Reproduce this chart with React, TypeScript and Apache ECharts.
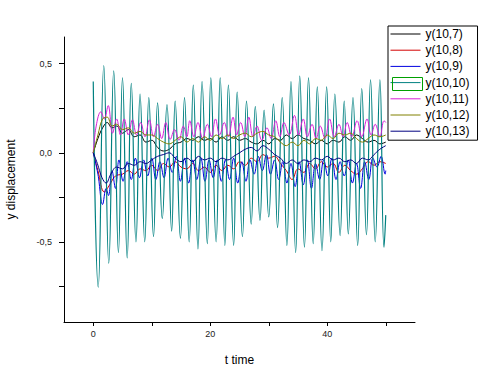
import React, { useEffect, useRef } from 'react';
import * as echarts from 'echarts';

const seriesNames = ['y(10,7)', 'y(10,8)', 'y(10,9)', 'y(10,10)', 'y(10,11)', 'y(10,12)', 'y(10,13)'];
const seriesColors = ['#000000', '#d40000', '#0000e0', '#008080', '#d820d8', '#808000', '#000080'];

const y10_7: number[][] = [[0,0],[0.8,0.08],[1.6,0.14],[2.4,0.17],[3.2,0.14],[4,0.15],[5,0.11],[6,0.13],[7,0.09],[8,0.1],[9,0.06],[10,0.07],[11,0.03],[12,0.01],[13,0.02],[14,0.05],[15,0.06],[16,0.08],[17,0.07],[18,0.09],[19,0.07],[20,0.08],[21,0.06],[22,0.09],[23,0.07],[24,0.09],[25,0.07],[26,0.08],[27,0.06],[28,0.05],[29,0.07],[30,0.05],[31,0.08],[32,0.07],[33,0.1],[34,0.08],[35,0.1],[36,0.08],[37,0.07],[38,0.05],[39,0.07],[40,0.05],[41,0.07],[42,0.06],[43,0.09],[44,0.07],[45,0.1],[46,0.08],[47,0.06],[48,0.07],[49,0.05],[50,0.06]];

const y10_8: number[][] = [[0,0],[0.8,-0.1],[1.9,-0.22],[2.8,-0.18],[3.8,-0.13],[5,-0.12],[6,-0.1],[7,-0.12],[8,-0.09],[9,-0.1],[10,-0.07],[11,-0.1],[12,-0.06],[13,-0.08],[14,-0.05],[15,-0.08],[16,-0.09],[17,-0.06],[18,-0.1],[19,-0.08],[20,-0.11],[21,-0.07],[22,-0.1],[23,-0.07],[24,-0.09],[25,-0.05],[26,-0.07],[27,-0.03],[28,-0.05],[29,-0.01],[30,-0.03],[31,-0.02],[32,-0.06],[33,-0.1],[34,-0.15],[35,-0.09],[36,-0.11],[37,-0.06],[38,-0.09],[39,-0.05],[40,-0.08],[41,-0.06],[42,-0.11],[43,-0.07],[44,-0.1],[45,-0.12],[46,-0.09],[47,-0.05],[48,-0.07],[49,-0.05],[50,-0.06]];

const y10_9: number[][] = [[0,0],[0.8,-0.12],[1.6,-0.29],[2.2,-0.2],[2.6,-0.24],[3.2,-0.1],[3.8,-0.2],[4.4,-0.04],[5.1,-0.16],[5.8,-0.05],[6.5,-0.15],[7.2,-0.03],[7.9,-0.14],[8.6,-0.04],[9.3,-0.13],[10.0,-0.03],[10.7,-0.15],[11.4,-0.05],[12.1,-0.14],[12.8,-0.03],[13.5,-0.11],[14.2,-0.02],[14.9,-0.16],[15.6,-0.03],[16.3,-0.17],[17.0,-0.04],[17.7,-0.15],[18.4,-0.03],[19.1,-0.16],[19.8,-0.04],[20.5,-0.14],[21.2,-0.04],[21.9,-0.16],[22.6,-0.04],[23.3,-0.15],[24.0,-0.03],[24.7,-0.17],[25.4,-0.05],[26.1,-0.16],[26.8,-0.04],[27.5,-0.12],[28.2,-0.02],[28.9,-0.1],[29.6,-0.01],[30.3,-0.12],[31.0,-0.04],[31.7,-0.15],[32.4,-0.05],[33.1,-0.17],[33.8,-0.06],[34.5,-0.19],[35.2,-0.05],[35.9,-0.18],[36.6,-0.04],[37.3,-0.2],[38.0,-0.06],[38.7,-0.15],[39.4,-0.04],[40.1,-0.13],[40.8,-0.03],[41.5,-0.15],[42.2,-0.05],[42.9,-0.13],[43.6,-0.04],[44.3,-0.17],[45.0,-0.06],[45.7,-0.2],[46.4,-0.05],[47.1,-0.15],[47.8,-0.03],[48.5,-0.08],[49.2,-0.02],[49.9,-0.12],[50,-0.1]];

const y10_10: number[][] = [[0,0.4],[0.85,-0.755],[1.8,0.49],[2.65,-0.62],[3.5,0.46],[4.3,-0.56],[5.0,0.42],[5.8,-0.59],[6.5,0.39],[7.3,-0.5],[8.0,0.33],[8.8,-0.5],[9.5,0.31],[10.3,-0.47],[11.0,0.28],[11.8,-0.37],[12.6,0.27],[13.4,-0.44],[14.0,0.29],[14.9,-0.48],[15.6,0.31],[16.4,-0.5],[17.1,0.38],[17.9,-0.54],[18.6,0.4],[19.5,-0.51],[20.1,0.42],[21.0,-0.5],[21.7,0.42],[22.5,-0.52],[23.1,0.38],[24.0,-0.52],[24.6,0.34],[25.5,-0.47],[26.2,0.29],[27.0,-0.4],[27.7,0.26],[28.5,-0.38],[29.2,0.24],[30.0,-0.36],[30.8,0.275],[31.5,-0.42],[32.3,0.31],[33.1,-0.52],[33.8,0.4],[34.6,-0.56],[35.3,0.43],[36.1,-0.53],[36.8,0.42],[37.6,-0.51],[38.3,0.37],[39.1,-0.55],[39.9,0.37],[40.6,-0.5],[41.3,0.33],[42.2,-0.465],[42.9,0.29],[43.6,-0.455],[44.4,0.31],[45.2,-0.52],[45.9,0.36],[46.7,-0.46],[47.4,0.41],[48.2,-0.5],[49.0,0.41],[49.7,-0.53],[50,-0.35]];

const y10_11: number[][] = [[0,0],[0.5,0.15],[1.3,0.23],[1.9,0.19],[2.55,0.265],[3.3,0.11],[4.0,0.19],[4.65,0.1],[5.3,0.19],[6.0,0.1],[6.7,0.185],[7.4,0.1],[8.1,0.17],[8.85,0.09],[9.6,0.185],[10.3,0.09],[11.0,0.16],[11.7,0.08],[12.4,0.17],[13.15,0.075],[13.9,0.13],[14.65,0.07],[15.4,0.15],[16.0,0.09],[16.5,0.18],[17.2,0.09],[17.9,0.17],[18.7,0.08],[19.5,0.16],[20.2,0.09],[20.9,0.19],[21.6,0.1],[22.4,0.17],[23.1,0.09],[23.9,0.2],[24.5,0.1],[25.2,0.17],[25.9,0.09],[26.6,0.2],[27.3,0.09],[28.0,0.15],[28.8,0.07],[29.7,0.14],[30.4,0.08],[31.2,0.18],[31.9,0.09],[32.6,0.17],[33.5,0.1],[34.4,0.21],[35.1,0.1],[35.9,0.19],[36.6,0.09],[37.4,0.16],[38.1,0.08],[38.8,0.15],[39.6,0.08],[40.4,0.19],[41.2,0.09],[42.0,0.16],[42.7,0.09],[43.4,0.17],[44.2,0.09],[45.1,0.18],[45.9,0.09],[46.8,0.19],[47.5,0.1],[48.2,0.16],[49.0,0.09],[49.7,0.18],[50,0.17]];

const y10_12: number[][] = [[0,0],[0.8,0.1],[1.6,0.19],[2.4,0.2],[3.2,0.15],[4,0.16],[5,0.13],[6,0.14],[7,0.11],[8,0.12],[9,0.1],[10,0.1],[11,0.08],[12,0.06],[13,0.05],[14,0.07],[15,0.09],[16,0.06],[17,0.08],[18,0.06],[19,0.09],[20,0.07],[21,0.1],[22,0.08],[23,0.1],[24,0.08],[25,0.1],[26,0.11],[27,0.09],[28,0.11],[29,0.12],[30,0.1],[31,0.09],[32,0.06],[33,0.04],[34,0.06],[35,0.04],[36,0.07],[37,0.05],[38,0.08],[39,0.07],[40,0.1],[41,0.08],[42,0.11],[43,0.1],[44,0.11],[45,0.08],[46,0.06],[47,0.08],[48,0.1],[49,0.09],[50,0.1]];

const y10_13: number[][] = [[0,0],[0.7,-0.06],[1.5,-0.14],[2.2,-0.17],[3,-0.12],[4,-0.08],[5,-0.09],[6,-0.06],[7,-0.07],[8,-0.05],[9,-0.06],[10,-0.04],[11,-0.02],[12,-0.01],[13,0.0],[14,-0.03],[15,-0.05],[16,-0.03],[17,-0.05],[18,-0.02],[19,-0.04],[20,-0.03],[21,-0.05],[22,-0.03],[23,-0.04],[24,-0.02],[25,0.0],[26,0.02],[27,0.03],[28,0.01],[29,0.04],[30,0.02],[31,-0.01],[32,-0.03],[33,-0.06],[34,-0.04],[35,-0.06],[36,-0.04],[37,-0.05],[38,-0.03],[39,-0.04],[40,-0.02],[41,-0.04],[42,-0.03],[43,-0.05],[44,-0.04],[45,-0.06],[46,-0.03],[47,-0.04],[48,-0.01],[49,0.02],[50,0.04]];

const seriesData = [y10_7, y10_8, y10_9, y10_10, y10_11, y10_12, y10_13];

const xTickValues = [0, 10, 20, 30, 40, 50];
const xLabelValues = [0, 20, 40];
const yTickValues = [-0.75, -0.5, -0.25, 0, 0.25, 0.5];
const yLabelValues = [-0.5, 0, 0.5];

const FONT = 'Arial, "Liberation Sans", sans-serif';

export default function App() {
  const ref = useRef<HTMLDivElement>(null);
  useEffect(() => {
    const chart = echarts.init(ref.current!, null, { renderer: 'svg' });
    chart.setOption({
      animation: false,
      backgroundColor: '#ffffff',
      grid: { left: 64, top: 37, width: 351, height: 285, containLabel: false, outerBoundsMode: 'none' },
      xAxis: {
        type: 'value',
        min: -5,
        max: 55,
        name: 't time',
        nameLocation: 'middle',
        nameGap: 32,
        nameTextStyle: { fontFamily: FONT, fontSize: 12, color: '#000' },
        axisLine: { show: true, onZero: false, lineStyle: { color: '#000', width: 1 } },
        axisTick: { show: true, length: 4, customValues: xTickValues, lineStyle: { color: '#000' } },
        axisLabel: {
          customValues: xLabelValues,
          margin: 7,
          fontFamily: FONT,
          fontSize: 9,
          color: '#222',
          formatter: (v: number) => String(v),
        },
        splitLine: { show: false },
      },
      yAxis: {
        type: 'value',
        min: -0.95,
        max: 0.65,
        name: 'y displacement',
        nameLocation: 'middle',
        nameGap: 47,
        nameRotate: 90,
        nameTextStyle: { fontFamily: FONT, fontSize: 12, color: '#000' },
        axisLine: { show: true, onZero: false, lineStyle: { color: '#000', width: 1 } },
        axisTick: { show: true, length: 5, customValues: yTickValues, lineStyle: { color: '#000' } },
        axisLabel: {
          customValues: yLabelValues,
          margin: 12,
          fontFamily: FONT,
          fontSize: 9,
          color: '#222',
          formatter: (v: number) => v.toFixed(1).replace('.', ','),
        },
        splitLine: { show: false },
      },
      legend: {
        orient: 'vertical',
        left: 388,
        top: 26,
        itemWidth: 30,
        itemHeight: 12,
        itemGap: 4.2,
        padding: [2, 8, 3, 2],
        borderColor: '#000',
        borderWidth: 1,
        backgroundColor: '#fff',
        itemStyle: { opacity: 0 },
        lineStyle: { width: 1 },
        textStyle: { fontFamily: FONT, fontSize: 12, color: '#000' },
        data: seriesNames,
        selectedMode: false,
      },
      graphic: [
        {
          type: 'rect',
          left: 390,
          top: 75,
          shape: { x: 0, y: 0, width: 30, height: 13 },
          style: { fill: 'none', stroke: '#00a000', lineWidth: 1 },
          z: 100,
        },
      ],
      series: seriesNames.map((name, i) => ({
        name,
        type: 'line',
        data: seriesData[i],
        symbol: 'none',
        smooth: i === 3 ? 0.5 : 0.4,
        color: seriesColors[i],
        lineStyle: { color: seriesColors[i], width: i === 3 ? 1.2 : 1 },
      })),
    });
    return () => chart.dispose();
  }, []);
  return <div ref={ref} style={{ position: 'fixed', left: 0, top: 0, width: 484, height: 381 }} />;
}
